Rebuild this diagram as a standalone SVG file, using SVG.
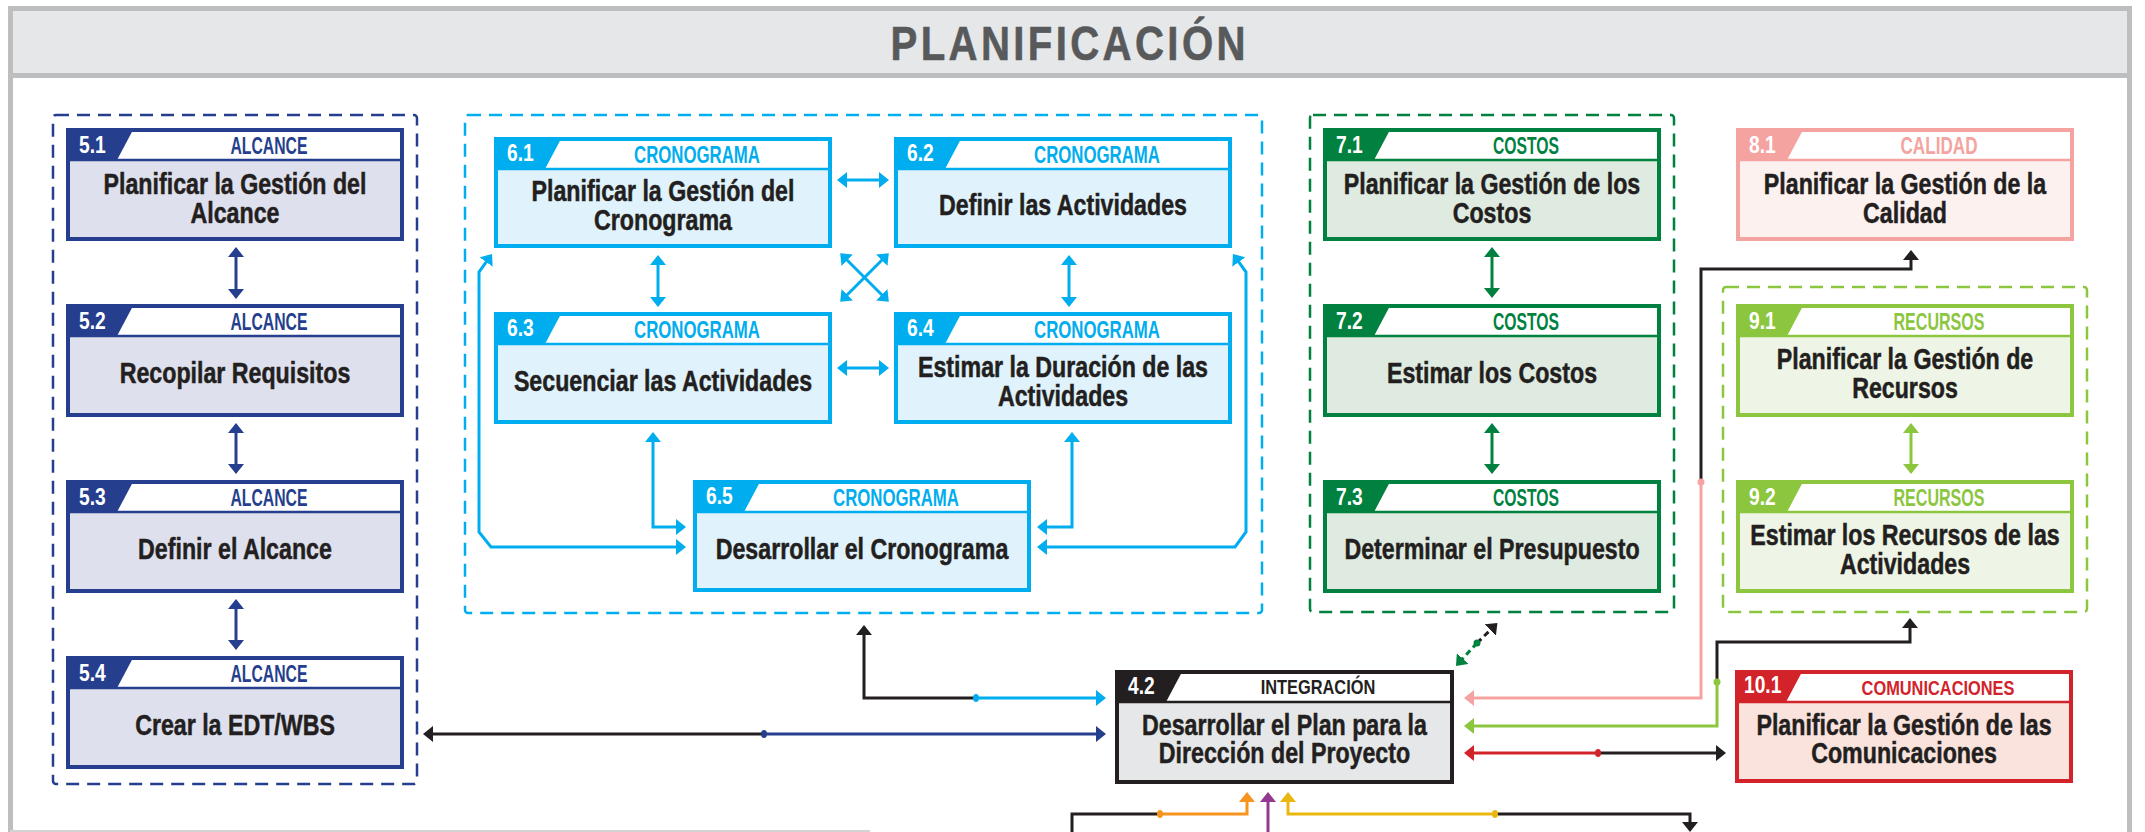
<svg xmlns="http://www.w3.org/2000/svg" width="2145" height="832" viewBox="0 0 2145 832">
<style>
.t{font-family:"Liberation Sans",Arial,sans-serif;font-weight:bold}
.ttl{font-size:29px;fill:#231f20;text-anchor:middle;stroke:#231f20;stroke-width:.5}
.num{font-size:24px;fill:#fff}
.hdr{font-size:24.5px;text-anchor:middle}
.hdr2{font-size:20px;text-anchor:middle}
.c{fill:none;stroke-width:3}
.grp{fill:none;stroke-width:2.5;stroke-dasharray:13 8}
.bd{fill:none;stroke-width:4}
</style>
<defs>
<marker id="aK" viewBox="0 0 10 16" refX="6" refY="8" markerWidth="10" markerHeight="16" markerUnits="userSpaceOnUse" orient="auto-start-reverse"><path d="M0,0L10,8L0,16z" fill="#231f20"/></marker>
<marker id="aB" viewBox="0 0 10 16" refX="6" refY="8" markerWidth="10" markerHeight="16" markerUnits="userSpaceOnUse" orient="auto-start-reverse"><path d="M0,0L10,8L0,16z" fill="#253e8e"/></marker>
<marker id="aC" viewBox="0 0 10 16" refX="6" refY="8" markerWidth="10" markerHeight="16" markerUnits="userSpaceOnUse" orient="auto-start-reverse"><path d="M0,0L10,8L0,16z" fill="#00aeef"/></marker>
<marker id="aG" viewBox="0 0 10 16" refX="6" refY="8" markerWidth="10" markerHeight="16" markerUnits="userSpaceOnUse" orient="auto-start-reverse"><path d="M0,0L10,8L0,16z" fill="#00813f"/></marker>
<marker id="aL" viewBox="0 0 10 16" refX="6" refY="8" markerWidth="10" markerHeight="16" markerUnits="userSpaceOnUse" orient="auto-start-reverse"><path d="M0,0L10,8L0,16z" fill="#8cc63f"/></marker>
<marker id="aP" viewBox="0 0 10 16" refX="6" refY="8" markerWidth="10" markerHeight="16" markerUnits="userSpaceOnUse" orient="auto-start-reverse"><path d="M0,0L10,8L0,16z" fill="#f5a3a0"/></marker>
<marker id="aR" viewBox="0 0 10 16" refX="6" refY="8" markerWidth="10" markerHeight="16" markerUnits="userSpaceOnUse" orient="auto-start-reverse"><path d="M0,0L10,8L0,16z" fill="#d2232a"/></marker>
<marker id="aO" viewBox="0 0 10 16" refX="6" refY="8" markerWidth="10" markerHeight="16" markerUnits="userSpaceOnUse" orient="auto-start-reverse"><path d="M0,0L10,8L0,16z" fill="#f7941d"/></marker>
<marker id="aV" viewBox="0 0 10 16" refX="6" refY="8" markerWidth="10" markerHeight="16" markerUnits="userSpaceOnUse" orient="auto-start-reverse"><path d="M0,0L10,8L0,16z" fill="#93398f"/></marker>
<marker id="aY" viewBox="0 0 10 16" refX="6" refY="8" markerWidth="10" markerHeight="16" markerUnits="userSpaceOnUse" orient="auto-start-reverse"><path d="M0,0L10,8L0,16z" fill="#e9b70f"/></marker>
</defs>
<rect width="2145" height="832" fill="#fff"/>
<g id="frame">
<rect x="13" y="11" width="2114" height="62" fill="#e6e7e8"/>
<path d="M10.5,840V8.5H2129.5V840" fill="none" stroke="#bcbec0" stroke-width="5"/>
<line x1="10" y1="75.5" x2="2130" y2="75.5" stroke="#bcbec0" stroke-width="5"/>
<line x1="10" y1="831" x2="870" y2="831" stroke="#d1d3d4" stroke-width="2"/>
<text class="t" transform="matrix(.82 0 0 1 1068 60)" font-size="49" fill="#58595b" stroke="#58595b" stroke-width=".6" text-anchor="middle" textLength="433" lengthAdjust="spacing">PLANIFICACIÓN</text>
</g>
<g id="groups">
<rect x="53" y="115" width="364" height="669" rx="3" class="grp" stroke="#253e8e"/>
<rect x="465" y="115" width="797" height="498" rx="3" class="grp" stroke="#00aeef"/>
<rect x="1310" y="115" width="364" height="497" rx="3" class="grp" stroke="#00813f"/>
<rect x="1723" y="287" width="364" height="325" rx="3" class="grp" stroke="#8cc63f"/>
</g>
<g id="connectors">
<path class="c" stroke="#253e8e" d="M236,251V295" marker-start="url(#aB)" marker-end="url(#aB)"/>
<path class="c" stroke="#253e8e" d="M236,427V470" marker-start="url(#aB)" marker-end="url(#aB)"/>
<path class="c" stroke="#253e8e" d="M236,603V646" marker-start="url(#aB)" marker-end="url(#aB)"/>
<path class="c" stroke="#00813f" d="M1492,251V294" marker-start="url(#aG)" marker-end="url(#aG)"/>
<path class="c" stroke="#00813f" d="M1492,427V470" marker-start="url(#aG)" marker-end="url(#aG)"/>
<path class="c" stroke="#8cc63f" d="M1911,427V470" marker-start="url(#aL)" marker-end="url(#aL)"/>
<path class="c" stroke="#00aeef" d="M841,180H885" marker-start="url(#aC)" marker-end="url(#aC)"/>
<path class="c" stroke="#00aeef" d="M841,368H885" marker-start="url(#aC)" marker-end="url(#aC)"/>
<path class="c" stroke="#00aeef" d="M658,259V303" marker-start="url(#aC)" marker-end="url(#aC)"/>
<path class="c" stroke="#00aeef" d="M1069,259V303" marker-start="url(#aC)" marker-end="url(#aC)"/>
<path class="c" stroke="#00aeef" d="M843,256L886,299" marker-start="url(#aC)" marker-end="url(#aC)"/>
<path class="c" stroke="#00aeef" d="M886,256L843,299" marker-start="url(#aC)" marker-end="url(#aC)"/>
<path class="c" stroke="#00aeef" d="M653,436V527H682" marker-start="url(#aC)" marker-end="url(#aC)"/>
<path class="c" stroke="#00aeef" d="M1072,436V527H1041" marker-start="url(#aC)" marker-end="url(#aC)"/>
<path class="c" stroke="#00aeef" d="M489.7,257.2L479,272V532L491,547H682" marker-start="url(#aC)" marker-end="url(#aC)"/>
<path class="c" stroke="#00aeef" d="M1235.3,257.2L1246,272V532L1235,547H1041" marker-start="url(#aC)" marker-end="url(#aC)"/>
<path class="c" stroke="#231f20" d="M976,698H864V629" marker-end="url(#aK)"/>
<path class="c" stroke="#00aeef" d="M976,698H1102" marker-end="url(#aC)"/>
<ellipse cx="976" cy="698" rx="3" ry="4" fill="#00aeef"/>
<path class="c" stroke="#231f20" d="M764,734H427" marker-end="url(#aK)"/>
<path class="c" stroke="#253e8e" d="M764,734H1102" marker-end="url(#aB)"/>
<ellipse cx="764" cy="734" rx="3" ry="4" fill="#253e8e"/>
<path class="c" stroke="#00813f" stroke-dasharray="6 4" d="M1477,643L1458.7,663" marker-end="url(#aG)"/>
<path class="c" stroke="#231f20" stroke-dasharray="6 4" d="M1477,643L1494.6,625.8" marker-end="url(#aK)"/>
<circle cx="1477" cy="643" r="3.5" fill="#00813f"/>
<path class="c" stroke="#231f20" d="M1701,482V269H1911V254" marker-end="url(#aK)"/>
<path class="c" stroke="#f5a3a0" d="M1701,482V698H1468" marker-end="url(#aP)"/>
<circle cx="1701" cy="482" r="3.5" fill="#f5a3a0"/>
<path class="c" stroke="#231f20" d="M1717,682V642H1910V622" marker-end="url(#aK)"/>
<path class="c" stroke="#8cc63f" d="M1717,682V726H1468" marker-end="url(#aL)"/>
<circle cx="1717" cy="682" r="3.5" fill="#8cc63f"/>
<path class="c" stroke="#d2232a" d="M1598,753H1468" marker-end="url(#aR)"/>
<path class="c" stroke="#231f20" d="M1598,753H1722" marker-end="url(#aK)"/>
<ellipse cx="1598" cy="753" rx="3" ry="4" fill="#d2232a"/>
<path class="c" stroke="#f7941d" d="M1160,814H1247V796" marker-end="url(#aO)"/>
<path class="c" stroke="#231f20" d="M1160,814H1072V838" marker-end="url(#aK)"/>
<ellipse cx="1160" cy="814" rx="3" ry="4" fill="#f7941d"/>
<path class="c" stroke="#93398f" d="M1268,845V796" marker-end="url(#aV)"/>
<path class="c" stroke="#e9b70f" d="M1495,814H1288V796" marker-end="url(#aY)"/>
<path class="c" stroke="#231f20" d="M1495,814H1690V828" marker-end="url(#aK)"/>
<ellipse cx="1495" cy="814" rx="3" ry="4" fill="#e9b70f"/>
</g>
<g id="n5-1"><rect x="66" y="128" width="338" height="113" fill="#dfe0ee"/><rect x="66" y="128" width="338" height="32" fill="#fff"/><polygon points="66,128 134,128 117,160 66,160" fill="#253e8e"/><line x1="66" y1="160" x2="404" y2="160" stroke="#253e8e" stroke-width="2.5"/><rect x="68" y="130" width="334" height="109" class="bd" stroke="#253e8e"/><text class="t num" transform="matrix(.8 0 0 1 79 153)">5.1</text><text class="t hdr" x="269" y="154" fill="#253e8e" textLength="77" lengthAdjust="spacingAndGlyphs">ALCANCE</text><text class="t ttl" transform="matrix(.8 0 0 1 235 194)">Planificar la Gestión del</text><text class="t ttl" transform="matrix(.8 0 0 1 235 223)">Alcance</text></g>
<g id="n5-2"><rect x="66" y="304" width="338" height="113" fill="#dfe0ee"/><rect x="66" y="304" width="338" height="32" fill="#fff"/><polygon points="66,304 134,304 117,336 66,336" fill="#253e8e"/><line x1="66" y1="336" x2="404" y2="336" stroke="#253e8e" stroke-width="2.5"/><rect x="68" y="306" width="334" height="109" class="bd" stroke="#253e8e"/><text class="t num" transform="matrix(.8 0 0 1 79 329)">5.2</text><text class="t hdr" x="269" y="330" fill="#253e8e" textLength="77" lengthAdjust="spacingAndGlyphs">ALCANCE</text><text class="t ttl" transform="matrix(.8 0 0 1 235 383)">Recopilar Requisitos</text></g>
<g id="n5-3"><rect x="66" y="480" width="338" height="113" fill="#dfe0ee"/><rect x="66" y="480" width="338" height="32" fill="#fff"/><polygon points="66,480 134,480 117,512 66,512" fill="#253e8e"/><line x1="66" y1="512" x2="404" y2="512" stroke="#253e8e" stroke-width="2.5"/><rect x="68" y="482" width="334" height="109" class="bd" stroke="#253e8e"/><text class="t num" transform="matrix(.8 0 0 1 79 505)">5.3</text><text class="t hdr" x="269" y="506" fill="#253e8e" textLength="77" lengthAdjust="spacingAndGlyphs">ALCANCE</text><text class="t ttl" transform="matrix(.8 0 0 1 235 559)">Definir el Alcance</text></g>
<g id="n5-4"><rect x="66" y="656" width="338" height="113" fill="#dfe0ee"/><rect x="66" y="656" width="338" height="32" fill="#fff"/><polygon points="66,656 134,656 117,688 66,688" fill="#253e8e"/><line x1="66" y1="688" x2="404" y2="688" stroke="#253e8e" stroke-width="2.5"/><rect x="68" y="658" width="334" height="109" class="bd" stroke="#253e8e"/><text class="t num" transform="matrix(.8 0 0 1 79 681)">5.4</text><text class="t hdr" x="269" y="682" fill="#253e8e" textLength="77" lengthAdjust="spacingAndGlyphs">ALCANCE</text><text class="t ttl" transform="matrix(.8 0 0 1 235 735)">Crear la EDT/WBS</text></g>
<g id="n6-1"><rect x="494" y="137" width="338" height="111" fill="#e0f2fb"/><rect x="494" y="137" width="338" height="32" fill="#fff"/><polygon points="494,137 562,137 545,169 494,169" fill="#00aeef"/><line x1="494" y1="169" x2="832" y2="169" stroke="#00aeef" stroke-width="2.5"/><rect x="496" y="139" width="334" height="107" class="bd" stroke="#00aeef"/><text class="t num" transform="matrix(.8 0 0 1 507 161)">6.1</text><text class="t hdr" x="697" y="163" fill="#00aeef" textLength="126" lengthAdjust="spacingAndGlyphs">CRONOGRAMA</text><text class="t ttl" transform="matrix(.8 0 0 1 663 201)">Planificar la Gestión del</text><text class="t ttl" transform="matrix(.8 0 0 1 663 230)">Cronograma</text></g>
<g id="n6-2"><rect x="894" y="137" width="338" height="111" fill="#e0f2fb"/><rect x="894" y="137" width="338" height="32" fill="#fff"/><polygon points="894,137 962,137 945,169 894,169" fill="#00aeef"/><line x1="894" y1="169" x2="1232" y2="169" stroke="#00aeef" stroke-width="2.5"/><rect x="896" y="139" width="334" height="107" class="bd" stroke="#00aeef"/><text class="t num" transform="matrix(.8 0 0 1 907 161)">6.2</text><text class="t hdr" x="1097" y="163" fill="#00aeef" textLength="126" lengthAdjust="spacingAndGlyphs">CRONOGRAMA</text><text class="t ttl" transform="matrix(.8 0 0 1 1063 215)">Definir las Actividades</text></g>
<g id="n6-3"><rect x="494" y="312" width="338" height="112" fill="#e0f2fb"/><rect x="494" y="312" width="338" height="32" fill="#fff"/><polygon points="494,312 562,312 545,344 494,344" fill="#00aeef"/><line x1="494" y1="344" x2="832" y2="344" stroke="#00aeef" stroke-width="2.5"/><rect x="496" y="314" width="334" height="108" class="bd" stroke="#00aeef"/><text class="t num" transform="matrix(.8 0 0 1 507 336)">6.3</text><text class="t hdr" x="697" y="338" fill="#00aeef" textLength="126" lengthAdjust="spacingAndGlyphs">CRONOGRAMA</text><text class="t ttl" transform="matrix(.8 0 0 1 663 391)">Secuenciar las Actividades</text></g>
<g id="n6-4"><rect x="894" y="312" width="338" height="112" fill="#e0f2fb"/><rect x="894" y="312" width="338" height="32" fill="#fff"/><polygon points="894,312 962,312 945,344 894,344" fill="#00aeef"/><line x1="894" y1="344" x2="1232" y2="344" stroke="#00aeef" stroke-width="2.5"/><rect x="896" y="314" width="334" height="108" class="bd" stroke="#00aeef"/><text class="t num" transform="matrix(.8 0 0 1 907 336)">6.4</text><text class="t hdr" x="1097" y="338" fill="#00aeef" textLength="126" lengthAdjust="spacingAndGlyphs">CRONOGRAMA</text><text class="t ttl" transform="matrix(.8 0 0 1 1063 377)">Estimar la Duración de las</text><text class="t ttl" transform="matrix(.8 0 0 1 1063 406)">Actividades</text></g>
<g id="n6-5"><rect x="693" y="480" width="338" height="112" fill="#e0f2fb"/><rect x="693" y="480" width="338" height="32" fill="#fff"/><polygon points="693,480 761,480 744,512 693,512" fill="#00aeef"/><line x1="693" y1="512" x2="1031" y2="512" stroke="#00aeef" stroke-width="2.5"/><rect x="695" y="482" width="334" height="108" class="bd" stroke="#00aeef"/><text class="t num" transform="matrix(.8 0 0 1 706 504)">6.5</text><text class="t hdr" x="896" y="506" fill="#00aeef" textLength="126" lengthAdjust="spacingAndGlyphs">CRONOGRAMA</text><text class="t ttl" transform="matrix(.8 0 0 1 862 559)">Desarrollar el Cronograma</text></g>
<g id="n7-1"><rect x="1323" y="128" width="338" height="113" fill="#dfebe1"/><rect x="1323" y="128" width="338" height="32" fill="#fff"/><polygon points="1323,128 1391,128 1374,160 1323,160" fill="#00813f"/><line x1="1323" y1="160" x2="1661" y2="160" stroke="#00813f" stroke-width="2.5"/><rect x="1325" y="130" width="334" height="109" class="bd" stroke="#00813f"/><text class="t num" transform="matrix(.8 0 0 1 1336 153)">7.1</text><text class="t hdr" x="1526" y="154" fill="#00813f" textLength="66" lengthAdjust="spacingAndGlyphs">COSTOS</text><text class="t ttl" transform="matrix(.8 0 0 1 1492 194)">Planificar la Gestión de los</text><text class="t ttl" transform="matrix(.8 0 0 1 1492 223)">Costos</text></g>
<g id="n7-2"><rect x="1323" y="304" width="338" height="113" fill="#dfebe1"/><rect x="1323" y="304" width="338" height="32" fill="#fff"/><polygon points="1323,304 1391,304 1374,336 1323,336" fill="#00813f"/><line x1="1323" y1="336" x2="1661" y2="336" stroke="#00813f" stroke-width="2.5"/><rect x="1325" y="306" width="334" height="109" class="bd" stroke="#00813f"/><text class="t num" transform="matrix(.8 0 0 1 1336 329)">7.2</text><text class="t hdr" x="1526" y="330" fill="#00813f" textLength="66" lengthAdjust="spacingAndGlyphs">COSTOS</text><text class="t ttl" transform="matrix(.8 0 0 1 1492 383)">Estimar los Costos</text></g>
<g id="n7-3"><rect x="1323" y="480" width="338" height="113" fill="#dfebe1"/><rect x="1323" y="480" width="338" height="32" fill="#fff"/><polygon points="1323,480 1391,480 1374,512 1323,512" fill="#00813f"/><line x1="1323" y1="512" x2="1661" y2="512" stroke="#00813f" stroke-width="2.5"/><rect x="1325" y="482" width="334" height="109" class="bd" stroke="#00813f"/><text class="t num" transform="matrix(.8 0 0 1 1336 505)">7.3</text><text class="t hdr" x="1526" y="506" fill="#00813f" textLength="66" lengthAdjust="spacingAndGlyphs">COSTOS</text><text class="t ttl" transform="matrix(.8 0 0 1 1492 559)">Determinar el Presupuesto</text></g>
<g id="n8-1"><rect x="1736" y="128" width="338" height="113" fill="#fdf1f0"/><rect x="1736" y="128" width="338" height="32" fill="#fff"/><polygon points="1736,128 1804,128 1787,160 1736,160" fill="#f5a3a0"/><line x1="1736" y1="160" x2="2074" y2="160" stroke="#f5a3a0" stroke-width="2.5"/><rect x="1738" y="130" width="334" height="109" class="bd" stroke="#f5a3a0"/><text class="t num" transform="matrix(.8 0 0 1 1749 153)">8.1</text><text class="t hdr" x="1939" y="154" fill="#f5a3a0" textLength="77" lengthAdjust="spacingAndGlyphs">CALIDAD</text><text class="t ttl" transform="matrix(.8 0 0 1 1905 194)">Planificar la Gestión de la</text><text class="t ttl" transform="matrix(.8 0 0 1 1905 223)">Calidad</text></g>
<g id="n9-1"><rect x="1736" y="304" width="338" height="113" fill="#eef5e6"/><rect x="1736" y="304" width="338" height="32" fill="#fff"/><polygon points="1736,304 1804,304 1787,336 1736,336" fill="#8cc63f"/><line x1="1736" y1="336" x2="2074" y2="336" stroke="#8cc63f" stroke-width="2.5"/><rect x="1738" y="306" width="334" height="109" class="bd" stroke="#8cc63f"/><text class="t num" transform="matrix(.8 0 0 1 1749 329)">9.1</text><text class="t hdr" x="1939" y="330" fill="#8cc63f" textLength="91" lengthAdjust="spacingAndGlyphs">RECURSOS</text><text class="t ttl" transform="matrix(.8 0 0 1 1905 369)">Planificar la Gestión de</text><text class="t ttl" transform="matrix(.8 0 0 1 1905 398)">Recursos</text></g>
<g id="n9-2"><rect x="1736" y="480" width="338" height="113" fill="#eef5e6"/><rect x="1736" y="480" width="338" height="32" fill="#fff"/><polygon points="1736,480 1804,480 1787,512 1736,512" fill="#8cc63f"/><line x1="1736" y1="512" x2="2074" y2="512" stroke="#8cc63f" stroke-width="2.5"/><rect x="1738" y="482" width="334" height="109" class="bd" stroke="#8cc63f"/><text class="t num" transform="matrix(.8 0 0 1 1749 505)">9.2</text><text class="t hdr" x="1939" y="506" fill="#8cc63f" textLength="91" lengthAdjust="spacingAndGlyphs">RECURSOS</text><text class="t ttl" transform="matrix(.8 0 0 1 1905 545)">Estimar los Recursos de las</text><text class="t ttl" transform="matrix(.8 0 0 1 1905 574)">Actividades</text></g>
<g id="n4-2"><rect x="1115" y="670" width="339" height="114" fill="#e6e7e8"/><rect x="1115" y="670" width="339" height="32" fill="#fff"/><polygon points="1115,670 1183,670 1166,702 1115,702" fill="#231f20"/><line x1="1115" y1="702" x2="1454" y2="702" stroke="#231f20" stroke-width="2.5"/><rect x="1117" y="672" width="335" height="110" class="bd" stroke="#231f20"/><text class="t num" transform="matrix(.8 0 0 1 1128 694)">4.2</text><text class="t hdr2" transform="matrix(.82 0 0 1 1318 694)" fill="#231f20">INTEGRACIÓN</text><text class="t ttl" transform="matrix(.8 0 0 1 1284.5 735)">Desarrollar el Plan para la</text><text class="t ttl" transform="matrix(.8 0 0 1 1284.5 763)">Dirección del Proyecto</text></g>
<g id="n10-1"><rect x="1735" y="670" width="338" height="113" fill="#f9e3dc"/><rect x="1735" y="670" width="338" height="32" fill="#fff"/><polygon points="1735,670 1803,670 1786,702 1735,702" fill="#d2232a"/><line x1="1735" y1="702" x2="2073" y2="702" stroke="#d2232a" stroke-width="2.5"/><rect x="1737" y="672" width="334" height="109" class="bd" stroke="#d2232a"/><text class="t num" transform="matrix(.8 0 0 1 1744 693)" font-size="22.5">10.1</text><text class="t hdr2" transform="matrix(.82 0 0 1 1938 695)" fill="#d2232a">COMUNICACIONES</text><text class="t ttl" transform="matrix(.8 0 0 1 1904 735)">Planificar la Gestión de las</text><text class="t ttl" transform="matrix(.8 0 0 1 1904 763)">Comunicaciones</text></g>
</svg>
